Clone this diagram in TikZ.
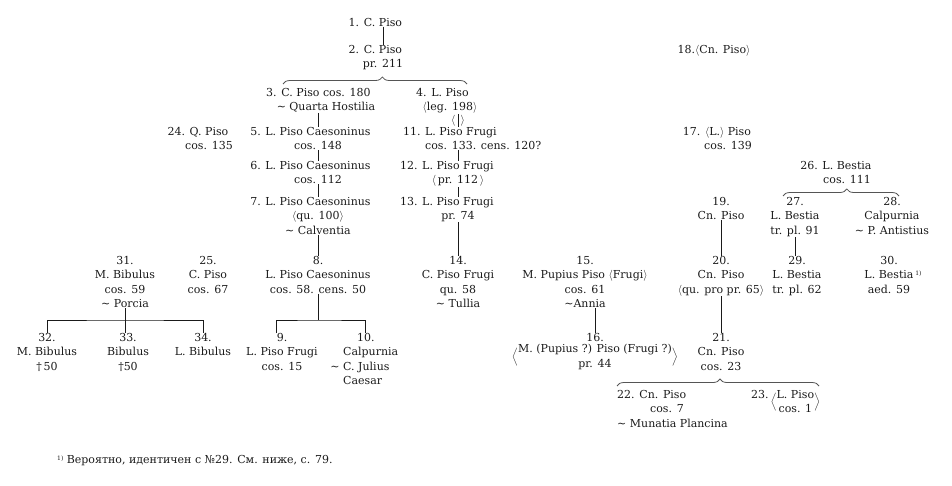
\documentclass[tikz,border=0pt]{standalone}
\usepackage{fontspec}
\setmainfont{DejaVu Serif}
\usepackage{xcolor}
\usepackage{tikz}
\usetikzlibrary{decorations.pathreplacing}
\definecolor{ink}{HTML}{1a1a1a}
\definecolor{rule}{HTML}{555555}
\newcommand\wed{\textasciitilde\ }
\newcommand\fnmark{\raisebox{3.5pt}{\fontsize{6}{6}\selectfont 1)}}
\tikzset{
  gen/.style={inner sep=0pt, align=center, anchor=north, text=ink, font=\fontsize{11}{14.5}\selectfont},
  hint/.style={inner sep=0pt, text=ink, font=\fontsize{11}{14.5}\selectfont},
  link/.style={draw=ink, line width=1pt},
  fork/.style={draw=rule, line width=0.8pt, decorate, decoration={brace, amplitude=7pt, aspect=#1}},
}

\begin{document}
\begin{tikzpicture}[x=1pt, y=-1pt]%
\useasboundingbox (0,0) rectangle (952,485);%
% first Pisones
\node[gen] (p1) at (383,18) {\llap{1. }C. Piso};%
\node[gen] (p2) at (383,45) {\llap{2. }C. Piso\\pr. 211};%
\coordinate (b2l) at (283,84);%
\coordinate (b2r) at (467,84);%
\node[gen] (p3) at (326,88) {\llap{3. }C. Piso cos. 180\\\wed Quarta Hostilia};%
\node[gen] (p4) at (450,88) {\llap{4. }L. Piso\\$\langle$leg. 198$\rangle$};%
% Caesonini
\node[gen] (p24) at (209,127) {\llap{24. }Q. Piso\\cos. 135};%
\node[gen] (p5) at (318,127) {\llap{5. }L. Piso Caesoninus\\cos. 148};%
\node[gen] (p6) at (318,161) {\llap{6. }L. Piso Caesoninus\\cos. 112};%
\node[gen] (p7) at (318,197) {\llap{7. }L. Piso Caesoninus\\$\langle$qu. 100$\rangle$\\\wed Calventia};%
\node[gen] (p8) at (318,256) {8.\\L. Piso Caesoninus\\cos. 58. cens. 50};%
\node[gen] (p9) at (282,333) {9.\\L. Piso Frugi\\cos. 15};%
\node[gen, anchor=north west, align=left] (p10) at (343,333) {\hspace*{14pt}10.\\Calpurnia\\\llap{\wed}C. Julius\\Caesar};%
% Bibuli
\node[gen] (p31) at (125,256) {31.\\M. Bibulus\\cos. 59\\\wed Porcia};%
\node[gen] (p25) at (208,256) {25.\\C. Piso\\cos. 67};%
\node[gen] (p32) at (47,333) {32.\\M. Bibulus\\\textdagger\,50};%
\node[gen] (p33) at (128,333) {33.\\Bibulus\\\textdagger50};%
\node[gen] (p34) at (203,333) {34.\\L. Bibulus};%
% Frugi
\node[gen, anchor=north west, align=left] (p11) at (425,127) {\llap{11. }L. Piso Frugi\\cos. 133. cens. 120?};%
\node[gen] (p12) at (458,161) {\llap{12. }L. Piso Frugi\\$\langle$\,pr. 112\,$\rangle$};%
\node[gen] (p13) at (458,197) {\llap{13. }L. Piso Frugi\\pr. 74};%
\node[gen] (p14) at (458,256) {14.\\C. Piso Frugi\\qu. 58\\\wed Tullia};%
\node[gen] (p15) at (585,256) {15.\\M. Pupius Piso $\langle$Frugi$\rangle$\\cos. 61\\\textasciitilde Annia};%
\node[gen] (p16) at (595,333) {16.\\$\Bigl\langle\begin{tabular}{@{}c@{}}M. (Pupius ?) Piso (Frugi ?)\\pr. 44\end{tabular}\Bigr\rangle$};%
% Cn. Pisones
\node[gen] (p18) at (714,45) {18.$\langle$Cn. Piso$\rangle$};%
\node[gen] (p17) at (728,127) {\llap{17. }$\langle$L.$\rangle$ Piso\\cos. 139};%
\node[gen] (p19) at (721,197) {19.\\Cn. Piso};%
\node[gen] (p20) at (721,256) {20.\\Cn. Piso\\$\langle$qu. pro pr. 65$\rangle$};%
\node[gen] (p21) at (721,333) {21.\\Cn. Piso\\cos. 23};%
\coordinate (b21l) at (617,386);%
\coordinate (b21r) at (819,386);%
\node[gen, anchor=north west, align=left] (p22) at (617,390) {22. Cn. Piso\\\hspace*{33pt}cos. 7\\\wed Munatia Plancina};%
\node[gen, anchor=base west, align=left] (p23) at (751,398) {23.\,\raisebox{-7.1pt}{$\Bigl\langle\begin{tabular}{@{}c@{}}L. Piso\\cos. 1\end{tabular}\Bigr\rangle$}};%
% Bestiae
\node[gen] (p26) at (847,161) {\llap{26. }L. Bestia\\cos. 111};%
\coordinate (b26l) at (783,196);%
\coordinate (b26r) at (899,196);%
\node[gen] (p27) at (795,197) {27.\\L. Bestia\\tr. pl. 91};%
\node[gen] (p28) at (892,197) {28.\\Calpurnia\\\wed P. Antistius};%
\node[gen] (p29) at (797,256) {29.\\L. Bestia\\tr. pl. 62};%
\node[gen] (p30) at (889,256) {30.\\L. Bestia\rlap{\,\fnmark}\\aed. 59};%
% footnote
\node[hint, anchor=west] (note) at (57,461) {\fnmark\ Вероятно, идентичен с №29. См. ниже, с. 79.};%
% links
\draw[link] (p1.south) -- (p2.north);%
\draw[fork=0.54] (b2l) -- (b2r);%
\draw[link] (p3.south -| p5.north) -- (p5.north);%
\draw[link] (p4.south -| p12.north) -- (p11.north -| p12.north) node[hint, midway, left=2pt] (q4l) {$\langle$} node[hint, midway, right=2pt] (q4r) {$\rangle$};%
\draw[link] (p5.south) -- (p6.north);%
\draw[link] (p6.south) -- (p7.north);%
\draw[link] (p7.south) -- (p8.north);%
\coordinate (j8) at (318,320);%
\draw[link] (p8.south) -- (j8);%
\draw[link] ([xshift=-6pt]p9.north) |- (j8) -| ([xshift=-5pt]p10.north);%
\coordinate (j31) at (125,320);%
\draw[link] (p31.south) -- (j31);%
\draw[link] (p32.north) |- (j31) -| (p34.north);%
\draw[link] (j31) -- (j31 |- p33.north);%
\draw[link] (p11.south -| p12.north) -- (p12.north);%
\draw[link] (p12.south) -- (p13.north);%
\draw[link] (p13.south) -- (p14.north);%
\draw[link] (p15.south -| p16.north) -- (p16.north);%
\draw[link] (p19.south) -- (p20.north);%
\draw[link] (p20.south) -- (p21.north);%
\draw[fork=0.51] (b21l) -- (b21r);%
\draw[fork=0.55] (b26l) -- (b26r);%
\draw[link] (p27.south) -- (p27.south |- p29.north);%
\end{tikzpicture}
\end{document}
